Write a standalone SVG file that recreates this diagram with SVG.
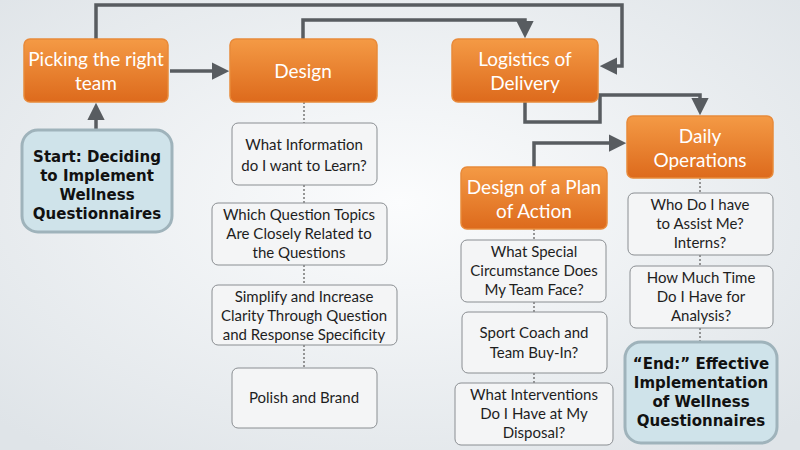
<svg xmlns="http://www.w3.org/2000/svg" width="800" height="450" viewBox="0 0 800 450">
<defs>
<radialGradient id="bg" cx="0.5" cy="0.45" r="0.7"><stop offset="0" stop-color="#fbfcfd"/><stop offset="1" stop-color="#dfe4e8"/></radialGradient>
<linearGradient id="og" x1="0" y1="0" x2="0" y2="1"><stop offset="0" stop-color="#f49a45"/><stop offset="1" stop-color="#dd6a1c"/></linearGradient>
<marker id="ah" viewBox="0 0 10 10" refX="7" refY="5" markerWidth="5" markerHeight="5" orient="auto"><path d="M0,0 L10,5 L0,10 z" fill="#585c60"/></marker>
</defs>
<style>
.o{fill:url(#og);stroke:#e88a3a;stroke-width:1.5}
.ot{fill:#fff;font-family:Lato,"Open Sans",sans-serif;font-size:19px;text-anchor:middle}
.w{fill:#f4f5f6;stroke:#8a8e92;stroke-width:1}
.wt{fill:#1e1e1e;font-family:Lato,"Open Sans",sans-serif;font-size:15px;text-anchor:middle}
.b{fill:#cfe3ea;stroke:#9fb3bb;stroke-width:3}
.bt{fill:#111;font-family:"DejaVu Sans",Verdana,sans-serif;font-weight:bold;font-size:15px;text-anchor:middle}
.c{fill:none;stroke:#585c60;stroke-width:3.5;marker-end:url(#ah)}
.d{fill:none;stroke:#777;stroke-width:1.5;stroke-dasharray:2 2}
</style>
<rect width="800" height="450" fill="url(#bg)"/>
<g id="connectors">
<path class="c" d="M170,71 H224"/>
<path class="c" d="M96,130 V108"/>
<path class="c" d="M96,39 V5 H622 V66 H605"/>
<path class="c" d="M303,39 V20 H525 V33"/>
<path class="c" d="M525,102 V122 H600 V95 H700 V110"/>
<path class="c" d="M534,167 V143 H621"/>
<path class="d" d="M304,102 V123 M304,185 V203 M304,265 V285 M304,345 V368"/>
<path class="d" d="M534,229 V240 M534,302 V312 M534,373 V383"/>
<path class="d" d="M700,178 V193 M700,255 V266 M700,328 V342"/>
</g>
<g id="picking"><rect class="o" x="24" y="39" width="144" height="63" rx="6"/><text class="ot" x="96" y="66">Picking the right</text><text class="ot" x="96" y="90">team</text></g>
<g id="design"><rect class="o" x="230" y="39" width="147" height="63" rx="6"/><text class="ot" x="303" y="78">Design</text></g>
<g id="logistics"><rect class="o" x="452" y="39" width="146" height="63" rx="6"/><text class="ot" x="525" y="66">Logistics of</text><text class="ot" x="525" y="90">Delivery</text></g>
<g id="daily"><rect class="o" x="627" y="116" width="146" height="62" rx="6"/><text class="ot" x="700" y="143">Daily</text><text class="ot" x="700" y="167">Operations</text></g>
<g id="plan"><rect class="o" x="461" y="167" width="146" height="62" rx="6"/><text class="ot" x="534" y="194">Design of a Plan</text><text class="ot" x="534" y="218">of Action</text></g>
<g id="start"><rect class="b" x="22" y="130" width="150" height="102" rx="16"/><text class="bt" x="97" y="162">Start: Deciding</text><text class="bt" x="97" y="181">to Implement</text><text class="bt" x="97" y="200">Wellness</text><text class="bt" x="97" y="219">Questionnaires</text></g>
<g id="end"><rect class="b" x="625" y="342" width="152" height="101" rx="16"/><text class="bt" x="701" y="369">“End:” Effective</text><text class="bt" x="701" y="388">Implementation</text><text class="bt" x="701" y="407">of Wellness</text><text class="bt" x="701" y="426">Questionnaires</text></g>
<g id="q1"><rect class="w" x="232" y="123" width="145" height="62" rx="6"/><text class="wt" x="304" y="150">What Information</text><text class="wt" x="304" y="171">do I want to Learn?</text></g>
<g id="q2"><rect class="w" x="212" y="203" width="175" height="62" rx="6"/><text class="wt" x="299" y="220">Which Question Topics</text><text class="wt" x="299" y="239">Are Closely Related to</text><text class="wt" x="299" y="258">the Questions</text></g>
<g id="q3"><rect class="w" x="212" y="285" width="185" height="60" rx="6"/><text class="wt" x="304" y="302">Simplify and Increase</text><text class="wt" x="304" y="321">Clarity Through Question</text><text class="wt" x="304" y="340">and Response Specificity</text></g>
<g id="q4"><rect class="w" x="232" y="368" width="145" height="60" rx="6"/><text class="wt" x="304" y="403">Polish and Brand</text></g>
<g id="p1"><rect class="w" x="461" y="240" width="145" height="62" rx="6"/><text class="wt" x="534" y="257">What Special</text><text class="wt" x="534" y="276">Circumstance Does</text><text class="wt" x="534" y="295">My Team Face?</text></g>
<g id="p2"><rect class="w" x="462" y="312" width="145" height="61" rx="6"/><text class="wt" x="534" y="338">Sport Coach and</text><text class="wt" x="534" y="358">Team Buy-In?</text></g>
<g id="p3"><rect class="w" x="455" y="383" width="158" height="62" rx="6"/><text class="wt" x="534" y="400">What Interventions</text><text class="wt" x="534" y="419">Do I Have at My</text><text class="wt" x="534" y="438">Disposal?</text></g>
<g id="d1"><rect class="w" x="628" y="193" width="145" height="62" rx="6"/><text class="wt" x="700" y="210">Who Do I have</text><text class="wt" x="700" y="229">to Assist Me?</text><text class="wt" x="700" y="248">Interns?</text></g>
<g id="d2"><rect class="w" x="630" y="266" width="143" height="62" rx="6"/><text class="wt" x="701" y="283">How Much Time</text><text class="wt" x="701" y="302">Do I Have for</text><text class="wt" x="701" y="321">Analysis?</text></g>
</svg>
